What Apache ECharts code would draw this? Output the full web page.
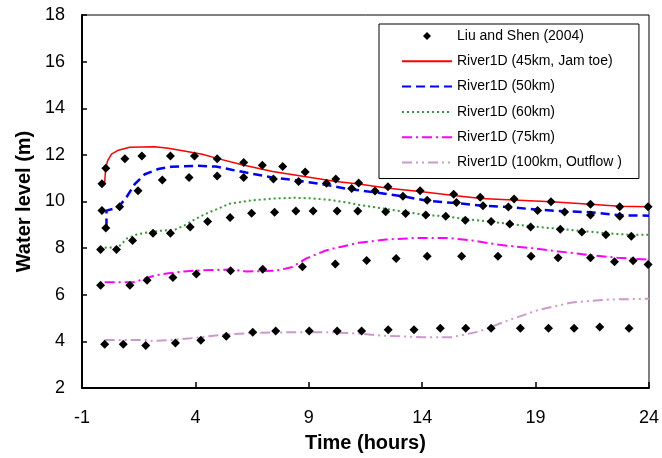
<!DOCTYPE html>
<html><head><meta charset="utf-8">
<script src="https://cdn.jsdelivr.net/npm/echarts@6/dist/echarts.min.js"></script>
<style>html,body{margin:0;padding:0;background:#fff}#c{width:662px;height:458px}</style>
</head><body><div id="c"></div><script>
// Observed data (Liu and Shen 2004): [time (h), water level (m)]
const obs45 = [[-0.12,10.76],[0.05,11.43],[0.89,11.83],[1.64,11.95],[2.9,11.95],[3.96,11.95],[4.96,11.83],[6.13,11.67],[6.95,11.56],[7.85,11.5],[8.84,11.27],[10.19,10.97],[11.2,10.79],[12.49,10.63],[13.91,10.46],[15.39,10.31],[16.56,10.18],[18.05,10.11],[19.68,9.99],[21.42,9.88],[22.71,9.78],[23.96,9.78]];
const obs50 = [[-0.12,9.61],[0.05,8.86],[0.66,9.78],[1.47,10.46],[2.54,10.92],[3.72,11.03],[4.96,11.09],[6.13,11.03],[7.44,10.96],[8.55,10.86],[9.78,10.78],[10.89,10.56],[11.92,10.45],[13.15,10.22],[14.22,10.05],[15.51,9.96],[16.68,9.82],[17.8,9.76],[19.09,9.61],[20.28,9.55],[21.42,9.42],[22.71,9.37]];
const obs60 = [[-0.18,7.94],[0.52,7.94],[1.23,8.33],[2.13,8.64],[2.9,8.64],[3.77,8.91],[4.54,9.14],[5.53,9.31],[6.48,9.5],[7.49,9.54],[8.43,9.59],[9.19,9.59],[10.25,9.59],[11.16,9.59],[12.39,9.56],[13.27,9.49],[14.16,9.42],[15.04,9.37],[15.9,9.2],[17.04,9.14],[17.86,9.03],[18.78,8.91],[20.09,8.81],[21.04,8.69],[22.1,8.57],[23.22,8.51]];
const obs75 = [[-0.18,6.41],[1.11,6.41],[1.87,6.62],[3.01,6.74],[4.04,6.89],[5.55,7.03],[6.97,7.09],[8.72,7.2],[10.17,7.32],[11.55,7.47],[12.85,7.55],[14.22,7.65],[15.74,7.65],[17.34,7.65],[18.8,7.65],[19.99,7.59],[21.42,7.59],[22.48,7.42],[23.3,7.46],[23.96,7.3]];
const obs100 = [[0.0,3.88],[0.82,3.88],[1.81,3.82],[3.12,3.93],[4.24,4.05],[5.36,4.22],[6.53,4.39],[7.54,4.44],[9.02,4.44],[10.25,4.44],[11.33,4.44],[12.5,4.5],[13.64,4.5],[14.8,4.56],[15.92,4.56],[17.04,4.56],[18.33,4.56],[19.57,4.56],[20.7,4.56],[21.83,4.62],[23.12,4.56]];

// River1D model results
const sim45 = [[0,10.8],[0.04,11.4],[0.13,11.75],[0.3,12.03],[0.6,12.2],[1.1,12.33],[2.2,12.35],[2.8,12.28],[3.5,12.17],[4.3,12.03],[5.0,11.84],[6.1,11.57],[7.4,11.29],[8.8,11.07],[10.2,10.86],[11.2,10.75],[12.5,10.57],[13.9,10.43],[15.4,10.26],[16.6,10.13],[18.0,10.06],[19.7,9.99],[21.4,9.88],[22.7,9.8],[24,9.78]];
const sim50 = [[0.08,8.89],[0.08,9.61],[0.6,9.75],[0.96,10.18],[1.33,10.75],[1.77,11.17],[2.35,11.39],[2.94,11.49],[4.1,11.53],[4.9,11.5],[5.6,11.36],[6.24,11.24],[7.4,11.03],[8.58,10.89],[9.75,10.72],[10.63,10.55],[11.92,10.39],[13.15,10.22],[14.22,10.03],[15.51,9.93],[16.68,9.82],[17.8,9.76],[19.09,9.65],[20.28,9.58],[21.42,9.54],[22.71,9.41],[24,9.39]];
const sim60 = [[0,8.02],[0.6,8.04],[1.0,8.43],[1.4,8.58],[1.8,8.66],[2.5,8.75],[3.1,8.79],[3.5,8.97],[4.0,9.25],[4.5,9.49],[5.5,9.9],[6.5,10.05],[7.5,10.13],[8.4,10.16],[9.2,10.13],[10.0,10.06],[10.9,9.92],[11.2,9.86],[12.4,9.68],[13.3,9.55],[14.2,9.42],[15.0,9.37],[15.9,9.25],[17.0,9.14],[17.9,9.03],[18.8,8.94],[20.1,8.82],[21.0,8.74],[22.1,8.64],[23.2,8.57],[24,8.57]];
const sim75 = [[0,6.54],[1.25,6.54],[1.7,6.66],[2.2,6.83],[2.9,6.93],[3.5,7.0],[4.3,7.05],[5.6,7.08],[6.24,7.0],[7.55,7.03],[8.28,7.19],[8.87,7.55],[9.75,7.9],[10.34,8.04],[11.2,8.23],[12.4,8.37],[13.6,8.43],[15.2,8.43],[16.2,8.33],[17.4,8.14],[18.8,8.0],[20.0,7.86],[21.5,7.69],[22.6,7.59],[24,7.5]];
const sim100 = [[0,4.06],[1.8,4.06],[2.1,4.02],[2.9,4.06],[3.8,4.13],[4.2,4.18],[5.4,4.3],[6.8,4.37],[8.3,4.39],[9.75,4.39],[10.3,4.37],[11.2,4.34],[12.2,4.25],[14.0,4.18],[15.3,4.18],[16.5,4.42],[17.7,4.87],[19.1,5.34],[20.6,5.67],[22.1,5.79],[24,5.83]];

const obsName = 'Liu and Shen (2004)';
const simNames = ['River1D (45km, Jam toe)','River1D (50km)','River1D (60km)','River1D (75km)','River1D (100km, Outflow )'];
const xTicks = {min: -1, max: 24, step: 5};
const yTicks = {min: 2, max: 18, step: 2};

const FONT = "'Liberation Sans', Arial, sans-serif";
const chart = echarts.init(document.getElementById('c'), null, {renderer: 'canvas'});

const simStyles = [
  {color: '#FF0000', width: 1.5, type: 'solid'},
  {color: '#0000FF', width: 2.5, type: [9, 5]},
  {color: '#339933', width: 2, type: [2, 3]},
  {color: '#FF00FF', width: 2, type: [10, 4, 2, 4]},
  {color: '#CC99CC', width: 2, type: [10, 4, 2, 4, 2, 4]}
];
const simData = [sim45, sim50, sim60, sim75, sim100];
const obsData = [obs45, obs50, obs60, obs75, obs100];

const series = [];
simData.forEach((d, i) => {
  series.push({
    type: 'line', name: simNames[i], data: d, symbol: 'none', showSymbol: false,
    lineStyle: simStyles[i], itemStyle: {color: simStyles[i].color}, z: 2, animation: false
  });
});
obsData.forEach(d => {
  series.push({
    type: 'scatter', name: obsName, data: d, symbol: 'diamond', symbolSize: 9,
    itemStyle: {color: '#000', opacity: 1}, z: 3, animation: false
  });
});

// legend icon for the observations: small diamond centred in a 50x8 box
const diamondIcon = 'path://M0,0M50,8M25,0L29,4L25,8L21,4Z';

chart.setOption({
  animation: false,
  backgroundColor: '#fff',
  textStyle: {fontFamily: FONT},
  grid: {left: 82, right: 11, top: 15, bottom: 68, show: true, borderColor: '#000', borderWidth: 1, backgroundColor: 'transparent'},
  legend: {
    orient: 'vertical', left: 379, top: 24,
    padding: [5, 17, 9, 22],
    itemWidth: 50, itemHeight: 8, itemGap: 11.3,
    backgroundColor: '#fff', borderColor: '#000', borderWidth: 1,
    textStyle: {fontSize: 14, color: '#000', fontFamily: FONT},
    data: [{name: obsName, icon: diamondIcon, itemStyle: {color: '#000', opacity: 1}}]
      .concat(simNames.map(n => ({name: n, itemStyle: {opacity: 0}})))
  },
  xAxis: {
    type: 'value', min: xTicks.min, max: xTicks.max, interval: xTicks.step,
    name: 'Time (hours)', nameLocation: 'middle', nameGap: 45,
    nameTextStyle: {fontSize: 20, fontWeight: 'bold', color: '#000', fontFamily: FONT},
    axisLine: {show: true, onZero: false, lineStyle: {color: '#000', width: 2}},
    axisTick: {show: true, inside: true, length: 6, lineStyle: {color: '#000', width: 1.5}},
    axisLabel: {fontSize: 18, color: '#000', margin: 21, fontFamily: FONT},
    splitLine: {show: false}
  },
  yAxis: {
    type: 'value', min: yTicks.min, max: yTicks.max, interval: yTicks.step,
    name: 'Water level (m)', nameLocation: 'middle', nameGap: 48, nameRotate: 90,
    nameTextStyle: {fontSize: 20, fontWeight: 'bold', color: '#000', fontFamily: FONT},
    axisLine: {show: true, onZero: false, lineStyle: {color: '#000', width: 2}},
    axisTick: {show: true, inside: true, length: 5, lineStyle: {color: '#000', width: 1.5}},
    axisLabel: {fontSize: 18, color: '#000', margin: 17, fontFamily: FONT},
    splitLine: {show: false}
  },
  series: series
});
</script></body></html>
